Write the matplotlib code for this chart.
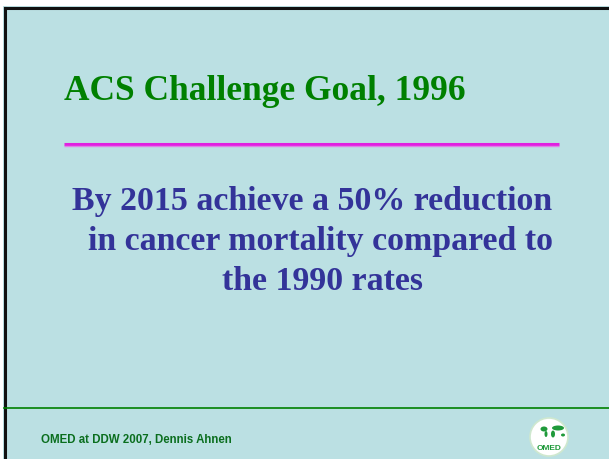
import matplotlib
matplotlib.use("Agg")
import matplotlib.pyplot as plt
import matplotlib.patches as patches

title = "ACS Challenge Goal, 1996"
body_lines = ["By 2015 achieve a 50% reduction",
              "in cancer mortality compared to",
              "the 1990 rates"]
footer = "OMED at DDW 2007, Dennis Ahnen"
logo_text = "OMED"

W, H = 609, 459
fig = plt.figure(figsize=(W / 100, H / 100), dpi=100)
fig.patch.set_facecolor('white')
ax = fig.add_axes([0, 0, 1, 1])
ax.set_xlim(0, W)
ax.set_ylim(H, 0)
ax.axis('off')

# slide background with black frame
ax.add_patch(patches.Rectangle((3, 6), W, H, fc='#bbe0e3', ec='none'))
ax.plot([4.5, 4.5], [7.5, H], color='#111111', lw=2.2)
ax.plot([4.5, W], [7.5, 7.5], color='#111111', lw=2.2)

# title
ax.text(265, 100, title, ha='center', va='baseline', fontsize=25.5,
        fontweight='bold', color='#008000', family='Liberation Serif')

# magenta rule
ax.plot([64, 559], [143.5, 143.5], color='#e020e0', lw=2.2, solid_capstyle='butt')
ax.plot([64, 559], [145.5, 145.5], color='#e080e8', lw=1.0, solid_capstyle='butt')

# body text
centers = [312, 321, 323]
for i, line in enumerate(body_lines):
    ax.text(centers[i], 210 + 40 * i, line, ha='center', va='baseline',
            fontsize=24.4, fontweight='bold', color='#333399',
            family='Liberation Serif')

# footer rule and text
ax.plot([4, W], [408, 408], color='#008000', lw=1.2)
ax.text(41, 443, footer, ha='left', va='baseline', fontsize=8.3,
        fontweight='bold', color='#0a6e1e', family='Liberation Sans')

# logo: white disc, rough world map, OMED
ax.add_patch(patches.Circle((549, 437), 19, fc='white', ec='#cfe8cf', lw=1.2))
ax.add_patch(patches.Ellipse((544, 429), 7, 5, fc='#1f9a3a', ec='none'))
ax.add_patch(patches.Ellipse((546, 434), 3, 6, fc='#1f9a3a', ec='none'))
ax.add_patch(patches.Ellipse((558, 428), 12, 5, fc='#1f9a3a', ec='none'))
ax.add_patch(patches.Ellipse((553, 434), 4, 7, fc='#1f9a3a', ec='none'))
ax.add_patch(patches.Ellipse((563, 435), 4, 3, fc='#1f9a3a', ec='none'))
ax.text(549, 450, logo_text, ha='center', va='baseline', fontsize=6,
        fontweight='bold', color='#1f9a3a', family='Liberation Sans')

fig.savefig('out.png', dpi=100)
